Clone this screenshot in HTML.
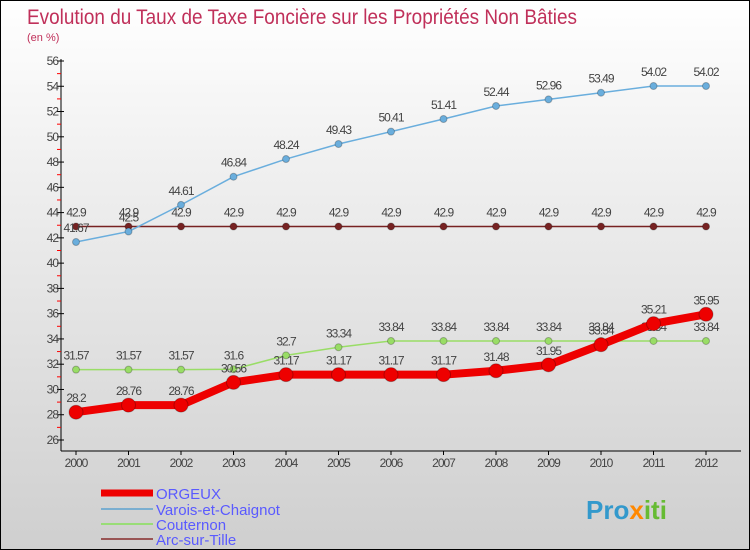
<!DOCTYPE html>
<html><head><meta charset="utf-8"><style>
body{margin:0}
#c{position:relative;width:748px;height:548px;border:1px solid #000;background:linear-gradient(#fff,#f0f0f0 30%,#cfcfcf);font-family:"Liberation Sans",sans-serif;overflow:hidden}
</style></head><body>
<div id="c">
<svg id="s" width="748" height="548" xmlns="http://www.w3.org/2000/svg">
<text x="26" y="23" font-size="21" fill="#c0305a" textLength="550" lengthAdjust="spacingAndGlyphs">Evolution du Taux de Taxe Foncière sur les Propriétés Non Bâties</text>
<text x="26" y="40" font-size="11" fill="#c0305a">(en %)</text>
<g id="axes"></g><g id="series"></g>
<g>
<line x1="100" y1="492" x2="152" y2="492" stroke="#e00" stroke-width="7"/>
<text x="155" y="498" font-size="15" fill="#5a5aff">ORGEUX</text>
<line x1="100" y1="508" x2="152" y2="508" stroke="#7aaed0" stroke-width="2"/>
<text x="155" y="514" font-size="15" fill="#5a5aff">Varois-et-Chaignot</text>
<line x1="100" y1="523" x2="152" y2="523" stroke="#99dd77" stroke-width="2"/>
<text x="155" y="529" font-size="15" fill="#5a5aff">Couternon</text>
<line x1="100" y1="538" x2="152" y2="538" stroke="#995555" stroke-width="2"/>
<text x="155" y="544" font-size="15" fill="#5a5aff">Arc-sur-Tille</text>
</g>
<text x="585" y="518" font-size="26" font-weight="bold" fill="#3399cc">Pro<tspan fill="#ff8800">x</tspan><tspan fill="#66bb33">iti</tspan></text>
</svg></div>
<script>
const years=[2000,2001,2002,2003,2004,2005,2006,2007,2008,2009,2010,2011,2012];
const orgeux=[28.2,28.76,28.76,30.56,31.17,31.17,31.17,31.17,31.48,31.95,33.54,35.21,35.95];
const varois=[41.67,42.5,44.61,46.84,48.24,49.43,50.41,51.41,52.44,52.96,53.49,54.02,54.02];
const couternon=[31.57,31.57,31.57,31.6,32.7,33.34,33.84,33.84,33.84,33.84,33.84,33.84,33.84];
const arc=[42.9,42.9,42.9,42.9,42.9,42.9,42.9,42.9,42.9,42.9,42.9,42.9,42.9];
const yTicks=[26,28,30,32,34,36,38,40,42,44,46,48,50,52,54,56];
const NS='http://www.w3.org/2000/svg';
const X=i=>75+i*52.5, Y=v=>439-(v-26)*(379/30);
function mk(t,a,p){const e=document.createElementNS(NS,t);for(const k in a)e.setAttribute(k,a[k]);p.appendChild(e);return e;}
const ax=document.getElementById('axes'), sg=document.getElementById('series');
let l=mk('line',{x1:60,y1:58,x2:60,y2:450,stroke:'#000'},ax);


l=mk('line',{x1:60,y1:450,x2:740,y2:450,stroke:'#000'},ax);


yTicks.forEach(v=>{mk('line',{x1:56,x2:63,y1:Y(v),y2:Y(v),stroke:'#000'},ax);
 if(v<56)mk('line',{x1:56,x2:60,y1:Y(v+1),y2:Y(v+1),stroke:'red'},ax);
 const t=mk('text',{x:57,y:Y(v)+4,'font-size':12,fill:'#444','text-anchor':'end','letter-spacing':'-1'},ax);t.textContent=v;
 
 });
years.forEach((yr,i)=>{mk('line',{x1:X(i),x2:X(i),y1:450,y2:454,stroke:'#000'},ax);
 const t=mk('text',{x:X(i),y:466,'font-size':12,fill:'#444','text-anchor':'middle','letter-spacing':'-1'},ax);t.textContent=yr;
 
 });
function series(d,color,w,r,name){
 const p=mk('polyline',{points:d.map((v,i)=>X(i)+','+Y(v)).join(' '),fill:'none',stroke:color,'stroke-width':w,'stroke-linejoin':'round'},sg);
 
 
 d.forEach((v,i)=>{const c=mk('circle',{cx:X(i),cy:Y(v),r:r,fill:color,stroke:'rgba(0,0,0,0.25)'},sg);
  
  
  const t=mk('text',{x:X(i),y:Y(v)-10,'font-size':12,fill:'#444','text-anchor':'middle','letter-spacing':'-1'},sg);t.textContent=v;
  
  });
}
series(arc,'#772222',1.5,3.5,'arc');
series(varois,'#6aaedd',1.5,3.5,'varois');
series(couternon,'#99dd66',1.5,3.5,'couternon');
series(orgeux,'#ee0000',8,7,'orgeux');
</script>
</body></html>
